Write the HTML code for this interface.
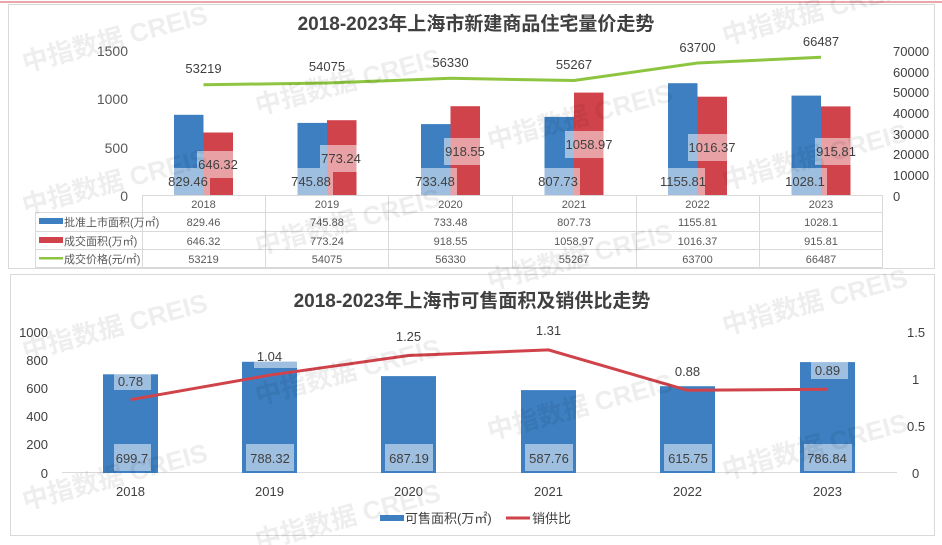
<!DOCTYPE html>
<html><head><meta charset="utf-8"><style>
html,body{margin:0;padding:0;background:#fff;}
svg{display:block;font-family:"Liberation Sans","Noto Sans CJK SC",sans-serif;}
.t{font-size:13px;fill:#404040;}
.ax{font-size:14px;fill:#595959;}
.tb{font-size:11px;fill:#595959;}
.wm{font-size:26px;font-weight:bold;fill:#000;opacity:0.07;}
</style></head><body>
<svg width="942" height="545" viewBox="0 0 942 545">
<line x1="0" y1="2" x2="942" y2="2" stroke="#e08a8f" stroke-width="1.5"/>
<rect x="8.5" y="4.5" width="926" height="264" fill="#fff" stroke="#d9d9d9"/>
<rect x="10.5" y="274.5" width="924" height="261" fill="#fff" stroke="#d9d9d9"/>

<!-- TOP CHART -->
<text x="476" y="30" text-anchor="middle" font-size="19" font-weight="bold" fill="#404040">2018-2023年上海市新建商品住宅量价走势</text>
<g class="ax" text-anchor="end">
<text x="128" y="56">1500</text><text x="128" y="104">1000</text><text x="128" y="153">500</text><text x="128" y="201">0</text>
</g>
<g class="t" text-anchor="start" font-size="13">
<text x="893" y="56">70000</text><text x="893" y="77">60000</text><text x="893" y="97">50000</text><text x="893" y="118">40000</text><text x="893" y="139">30000</text><text x="893" y="159">20000</text><text x="893" y="180">10000</text><text x="893" y="201">0</text>
</g>
<!-- bars -->
<g fill="#3d7fc1">
<rect x="174" y="114.8" width="29.5" height="80.2"/>
<rect x="297.5" y="122.9" width="29.5" height="72.1"/>
<rect x="421" y="124.1" width="29.5" height="70.9"/>
<rect x="544.5" y="116.9" width="29.5" height="78.1"/>
<rect x="668" y="83.2" width="29.5" height="111.8"/>
<rect x="791.5" y="95.6" width="29.5" height="99.4"/>
</g>
<g fill="#d1434a">
<rect x="203.5" y="132.5" width="29.5" height="62.5"/>
<rect x="327" y="120.2" width="29.5" height="74.8"/>
<rect x="450.5" y="106.2" width="29.5" height="88.8"/>
<rect x="574" y="92.6" width="29.5" height="102.4"/>
<rect x="697.5" y="96.7" width="29.5" height="98.3"/>
<rect x="821" y="106.4" width="29.5" height="88.6"/>
</g>
<!-- price line -->
<polyline points="203.5,84.8 327,83 450.5,78.3 574,80.5 697.5,63 821,57.3" fill="none" stroke="#8dc540" stroke-width="3"/>
<g class="t" text-anchor="middle" font-size="14">
<text x="203.5" y="73">53219</text><text x="327" y="71">54075</text><text x="450.5" y="67">56330</text><text x="574" y="69">55267</text><text x="697.5" y="52">63700</text><text x="821" y="46">66487</text>
</g>
<!-- bar labels -->
<g fill="#fff" opacity="0.5">
<rect x="171" y="168" width="39" height="27"/><rect x="197" y="151" width="42" height="27"/>
<rect x="294" y="168" width="39" height="27"/><rect x="320" y="145" width="42" height="27"/>
<rect x="418" y="168" width="39" height="27"/><rect x="444" y="138" width="42" height="27"/>
<rect x="541" y="168" width="39" height="27"/><rect x="565" y="131" width="48" height="27"/>
<rect x="663" y="168" width="42" height="27"/><rect x="688" y="134" width="48" height="27"/>
<rect x="788" y="168" width="39" height="27"/><rect x="815" y="138" width="42" height="27"/>
</g>
<g class="t" text-anchor="middle" font-size="14">
<text x="188" y="186">829.46</text><text x="218" y="169">646.32</text>
<text x="311" y="186">745.88</text><text x="341" y="163">773.24</text>
<text x="435" y="186">733.48</text><text x="465" y="156">918.55</text>
<text x="558" y="186">807.73</text><text x="589" y="149">1058.97</text>
<text x="683" y="186">1155.81</text><text x="712" y="152">1016.37</text>
<text x="805" y="186">1028.1</text><text x="836" y="156">915.81</text>
</g>
<!-- table -->
<g stroke="#d9d9d9" stroke-width="1" fill="none">
<line x1="142" y1="195.5" x2="883" y2="195.5"/>
<line x1="35" y1="212.5" x2="883" y2="212.5"/>
<line x1="35" y1="231.5" x2="883" y2="231.5"/>
<line x1="35" y1="249.5" x2="883" y2="249.5"/>
<line x1="35" y1="267.5" x2="883" y2="267.5"/>
<line x1="35.5" y1="212" x2="35.5" y2="268"/>
<line x1="142.5" y1="195" x2="142.5" y2="268"/>
<line x1="265.5" y1="195" x2="265.5" y2="268"/>
<line x1="388.5" y1="195" x2="388.5" y2="268"/>
<line x1="512.5" y1="195" x2="512.5" y2="268"/>
<line x1="636.5" y1="195" x2="636.5" y2="268"/>
<line x1="759.5" y1="195" x2="759.5" y2="268"/>
<line x1="882.5" y1="195" x2="882.5" y2="268"/>
</g>
<rect x="39" y="218" width="24" height="6" fill="#3d7fc1"/>
<rect x="39" y="237" width="24" height="6" fill="#d1434a"/>
<rect x="39" y="257" width="24" height="2.5" fill="#8dc540"/>
<g class="tb"><text x="64" y="226">批准上市面积(万㎡)</text><text x="64" y="245">成交面积(万㎡)</text><text x="64" y="263">成交价格(元/㎡)</text></g>
<g class="tb" text-anchor="middle">
<text x="203.5" y="208">2018</text><text x="327" y="208">2019</text><text x="450.5" y="208">2020</text><text x="574" y="208">2021</text><text x="697.5" y="208">2022</text><text x="821" y="208">2023</text>
<text x="203.5" y="226">829.46</text><text x="327" y="226">745.88</text><text x="450.5" y="226">733.48</text><text x="574" y="226">807.73</text><text x="697.5" y="226">1155.81</text><text x="821" y="226">1028.1</text>
<text x="203.5" y="245">646.32</text><text x="327" y="245">773.24</text><text x="450.5" y="245">918.55</text><text x="574" y="245">1058.97</text><text x="697.5" y="245">1016.37</text><text x="821" y="245">915.81</text>
<text x="203.5" y="263">53219</text><text x="327" y="263">54075</text><text x="450.5" y="263">56330</text><text x="574" y="263">55267</text><text x="697.5" y="263">63700</text><text x="821" y="263">66487</text>
</g>

<!-- BOTTOM CHART -->
<text x="472" y="307" text-anchor="middle" font-size="19" font-weight="bold" fill="#404040">2018-2023年上海市可售面积及销供比走势</text>
<g class="t" text-anchor="end" font-size="13.5">
<text x="48" y="337">1000</text><text x="48" y="365">800</text><text x="48" y="393">600</text><text x="48" y="421">400</text><text x="48" y="449">200</text><text x="48" y="478">0</text>
</g>
<g class="t" text-anchor="start" font-size="13.5">
<text x="907" y="337">1.5</text><text x="912" y="384">1</text><text x="907" y="431">0.5</text><text x="912" y="478">0</text>
</g>
<line x1="62" y1="472.5" x2="897" y2="472.5" stroke="#d9d9d9"/>
<g fill="#3d7fc1">
<rect x="103" y="374.3" width="55" height="98.7"/>
<rect x="242" y="361.8" width="55" height="111.2"/>
<rect x="381" y="376.1" width="55" height="96.9"/>
<rect x="521" y="390.1" width="55" height="82.9"/>
<rect x="660" y="386.2" width="55" height="86.8"/>
<rect x="800" y="362.1" width="55" height="110.9"/>
</g>
<g fill="#fff" opacity="0.5">
<rect x="114" y="444" width="37" height="27"/>
<rect x="246" y="444" width="48" height="27"/>
<rect x="385" y="444" width="48" height="27"/>
<rect x="525" y="444" width="48" height="27"/>
<rect x="664" y="444" width="48" height="27"/>
<rect x="804" y="444" width="48" height="27"/>
<rect x="114" y="374" width="37" height="16"/>
<rect x="254" y="362" width="43" height="6"/>
<rect x="811" y="362" width="37" height="17"/>
</g>
<polyline points="130.5,399.7 269.5,375.2 408.5,355.5 548.5,349.9 687.5,390.3 827.5,389.3" fill="none" stroke="#d1434a" stroke-width="3"/>
<g class="t" text-anchor="middle" font-size="14">
<text x="132" y="463">699.7</text><text x="270" y="463">788.32</text><text x="409" y="463">687.19</text><text x="549" y="463">587.76</text><text x="688" y="463">615.75</text><text x="827" y="463">786.84</text>
<text x="130.5" y="386">0.78</text><text x="269.5" y="361">1.04</text><text x="408.5" y="341">1.25</text><text x="548.5" y="335">1.31</text><text x="687.5" y="376">0.88</text><text x="827.5" y="375">0.89</text>
</g>
<g class="t" text-anchor="middle" font-size="14">
<text x="130.5" y="496">2018</text><text x="269.5" y="496">2019</text><text x="408.5" y="496">2020</text><text x="548.5" y="496">2021</text><text x="687.5" y="496">2022</text><text x="827.5" y="496">2023</text>
</g>
<rect x="380" y="515" width="24" height="6" fill="#3d7fc1"/>
<text x="405" y="523" class="t" font-size="13">可售面积(万㎡)</text>
<line x1="506" y1="518" x2="530" y2="518" stroke="#d1434a" stroke-width="3"/>
<text x="532" y="523" class="t" font-size="13">销供比</text>

<!-- watermarks -->
<g class="wm">
<text transform="translate(25,72) rotate(-15)">中指数据 CREIS</text>
<text transform="translate(258,115) rotate(-15)">中指数据 CREIS</text>
<text transform="translate(490,150) rotate(-15)">中指数据 CREIS</text>
<text transform="translate(725,45) rotate(-15)">中指数据 CREIS</text>
<text transform="translate(725,190) rotate(-15)">中指数据 CREIS</text>
<text transform="translate(25,215) rotate(-15)">中指数据 CREIS</text>
<text transform="translate(258,255) rotate(-15)">中指数据 CREIS</text>
<text transform="translate(490,290) rotate(-15)">中指数据 CREIS</text>
<text transform="translate(25,360) rotate(-15)">中指数据 CREIS</text>
<text transform="translate(258,405) rotate(-15)">中指数据 CREIS</text>
<text transform="translate(490,440) rotate(-15)">中指数据 CREIS</text>
<text transform="translate(725,335) rotate(-15)">中指数据 CREIS</text>
<text transform="translate(725,480) rotate(-15)">中指数据 CREIS</text>
<text transform="translate(25,510) rotate(-15)">中指数据 CREIS</text>
<text transform="translate(258,550) rotate(-15)">中指数据 CREIS</text>
</g>
</svg>
</body></html>
